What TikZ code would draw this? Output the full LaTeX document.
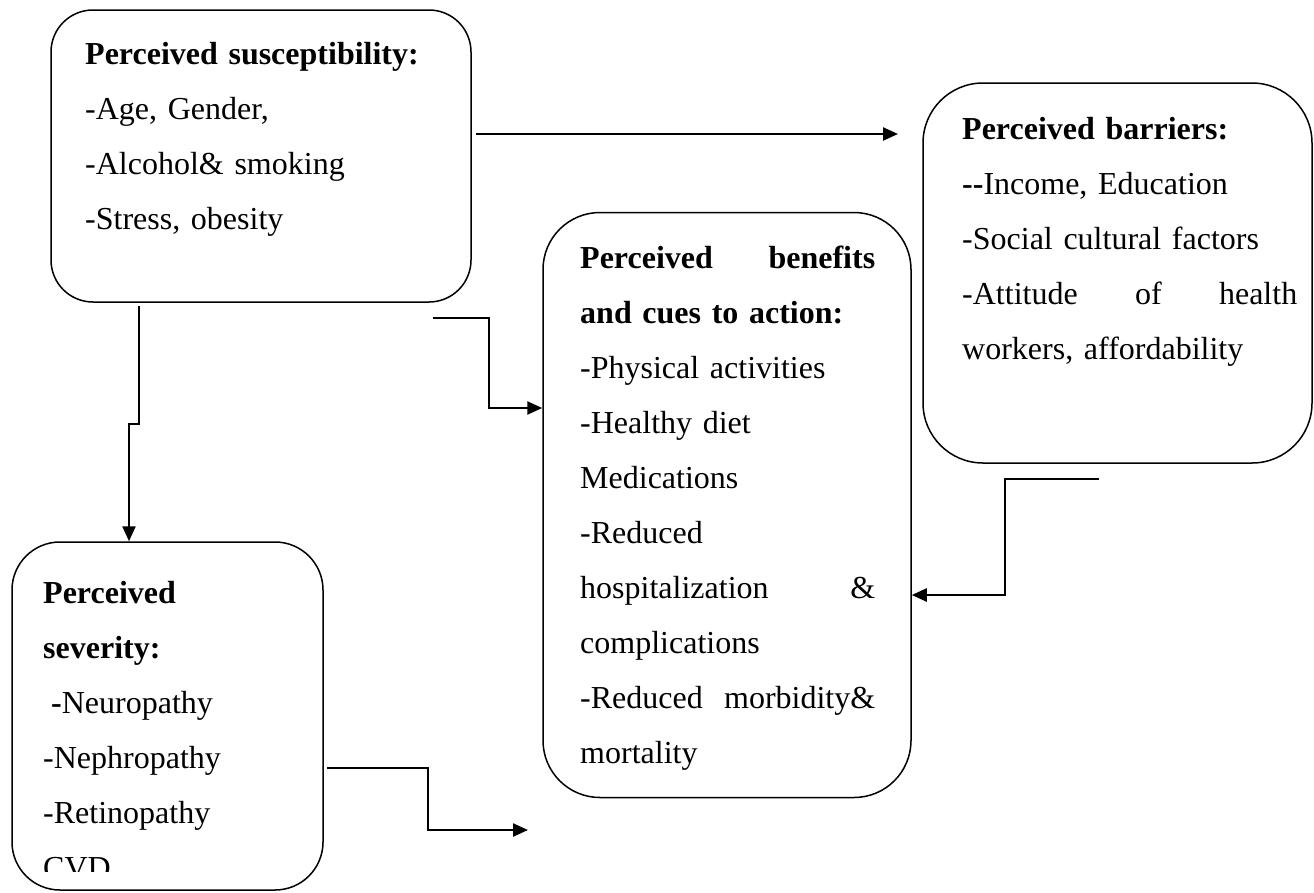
\documentclass[tikz,border=0pt]{standalone}
\usepackage{fontspec}
\setmainfont{Liberation Serif}
\usetikzlibrary{arrows.meta}
\begin{document}
\begin{tikzpicture}[x=1pt,y=-1pt,
  box/.style={draw, line width=1.5pt, rounded corners=#1, inner sep=0pt},
  txt/.style={anchor=base west, inner sep=0pt, align=left, text width=#1,
              font=\fontsize{32}{55}\selectfont},
  arr/.style={line width=2.4pt, -{Triangle[length=15pt,width=13pt]}}]
\useasboundingbox (0,0) rectangle (1314,892);

% boxes
\node[box=42pt, minimum width=420pt, minimum height=292pt] (sus) at (261,156) {};
\node[box=60pt, minimum width=389pt, minimum height=380pt] (bar) at (1117.5,273) {};
\node[box=57pt, minimum width=368pt, minimum height=585pt] (ben) at (727,505) {};
\node[box=48pt, minimum width=311pt, minimum height=348pt] (sev) at (167.5,716) {};

% texts
\node[txt=360pt] (t1) at (85,64) {\textbf{Perceived susceptibility:}\\-Age, Gender,\\-Alcohol\& smoking\\-Stress, obesity};
\node[txt=335pt] (t2) at (962,139) {\textbf{Perceived barriers:}\\\textbf{-{}-}Income, Education\\-Social cultural factors\\-Attitude\hfill of\hfill health\\workers, affordability};
\node[txt=295pt] (t3) at (580,268) {\textbf{Perceived}\hfill\textbf{benefits}\\\textbf{and cues to action:}\\-Physical activities\\-Healthy diet\\Medications\\-Reduced\\hospitalization\hfill\&\\complications\\-Reduced\hfill morbidity\&\\mortality};
\begin{scope}
\clip (0,0) rectangle (330,871);
\node[txt=270pt] (t4) at (43,603) {\textbf{Perceived}\\\textbf{severity:}\\\hspace*{8pt}\textbf{-}Neuropathy\\-Nephropathy\\-Retinopathy\\CVD};
\end{scope}

% connectors
\coordinate (a1s) at (476,134);
\coordinate (a1e) at (898,134);
\draw[arr] (a1s) -- (a1e);

\coordinate (a2s) at (139,306);
\coordinate (a2k) at (129,424);
\draw[arr] (a2s) -- (a2s |- a2k) -- (a2k) -- (a2k |- sev.north);

\coordinate (a3s) at (433,318);
\coordinate (a3k) at (489,408);
\draw[arr] (a3s) -| (a3k) -- (a3k -| ben.west);

\coordinate (a4s) at (1099,479);
\coordinate (a4k) at (1005,595);
\draw[arr] (a4s) -| (a4k) -- (a4k -| ben.east);

\coordinate (a5s) at (327,768);
\coordinate (a5k) at (428,830);
\coordinate (a5e) at (528,830);
\draw[arr] (a5s) -| (a5k) -- (a5e);
\end{tikzpicture}
\end{document}
